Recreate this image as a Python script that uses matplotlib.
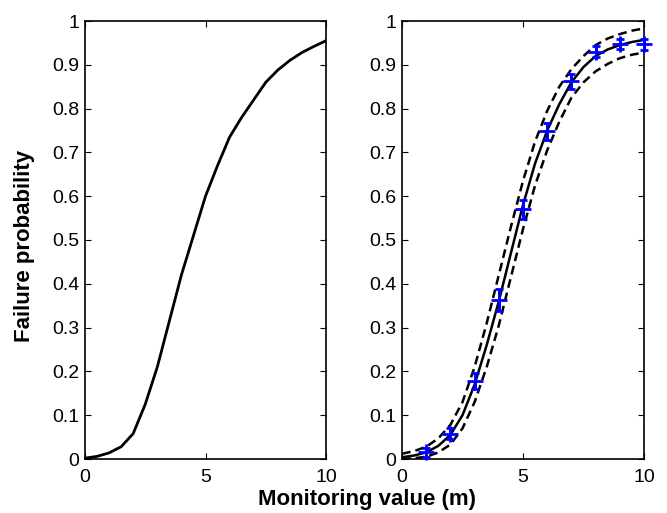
import matplotlib
matplotlib.use("Agg")
import matplotlib.pyplot as plt
import numpy as np

plt.rcParams['font.family'] = ['Liberation Sans', 'DejaVu Sans']

# Left panel curve
x_curve = [0, 0.5, 1, 1.5, 2, 2.5, 3, 3.5, 4, 4.5, 5, 5.5, 6, 6.5, 7, 7.5, 8, 8.5, 9, 9.5, 10]
p_left = [0.002, 0.006, 0.014, 0.028, 0.058, 0.125, 0.21, 0.315, 0.42, 0.51, 0.60, 0.67, 0.735, 0.78, 0.82, 0.86, 0.888, 0.91, 0.928, 0.942, 0.955]

# Right panel: fitted curve and confidence bounds
p_mid = [0.004, 0.008, 0.015, 0.03, 0.055, 0.10, 0.17, 0.26, 0.36, 0.47, 0.58, 0.675, 0.75, 0.81, 0.86, 0.895, 0.92, 0.935, 0.945, 0.952, 0.957]
p_upper = [0.012, 0.018, 0.028, 0.047, 0.078, 0.13, 0.21, 0.31, 0.42, 0.53, 0.635, 0.725, 0.795, 0.85, 0.89, 0.92, 0.945, 0.96, 0.97, 0.978, 0.983]
p_lower = [0.0, 0.002, 0.005, 0.015, 0.033, 0.07, 0.13, 0.21, 0.305, 0.415, 0.525, 0.625, 0.705, 0.77, 0.825, 0.86, 0.885, 0.902, 0.915, 0.923, 0.928]

# Observed points with error bars
x_obs = [1, 2, 3, 4, 5, 6, 7, 8, 9, 10]
p_obs = [0.015, 0.058, 0.178, 0.362, 0.57, 0.748, 0.862, 0.93, 0.948, 0.947]
p_err = [0.010, 0.012, 0.018, 0.025, 0.022, 0.02, 0.017, 0.013, 0.011, 0.013]

yticks = [0, 0.1, 0.2, 0.3, 0.4, 0.5, 0.6, 0.7, 0.8, 0.9, 1]
ytick_labels = ['0', '0.1', '0.2', '0.3', '0.4', '0.5', '0.6', '0.7', '0.8', '0.9', '1']
xticks = [0, 5, 10]

fig = plt.figure(figsize=(6.67, 5.13), dpi=100)
ax1 = fig.add_axes([85/667, 54/513, 241/667, 438/513])
ax2 = fig.add_axes([402/667, 54/513, 242/667, 438/513])

ax1.plot(x_curve, p_left, color='black', lw=2)

ax2.plot(x_curve, p_mid, color='black', lw=1.8)
ax2.plot(x_curve, p_upper, color='black', lw=1.8, ls=(0, (3.5, 2)))
ax2.plot(x_curve, p_lower, color='black', lw=1.8, ls=(0, (3.5, 2)))
ax2.errorbar(x_obs, p_obs, yerr=p_err, fmt='+', color='blue', ms=11, mew=2,
             elinewidth=2, capsize=3, capthick=2, zorder=5, clip_on=False)

for ax in (ax1, ax2):
    ax.set_xlim(0, 10)
    ax.set_ylim(0, 1)
    ax.set_xticks(xticks)
    ax.set_xticklabels([str(t) for t in xticks])
    ax.set_yticks(yticks)
    ax.set_yticklabels(ytick_labels)
    ax.tick_params(direction='in', top=True, right=True, length=4, width=0.8,
                   labelsize=14)
    ax.tick_params(axis='x', pad=7)
    ax.tick_params(axis='y', pad=4)
    for s in ax.spines.values():
        s.set_linewidth(1.2)

fig.text(367/667, 1 - 499/513, 'Monitoring value (m)', ha='center', va='center',
         fontsize=16, fontweight='bold')
fig.text(25/667, 1 - 246/513, 'Failure probability', ha='center', va='center',
         rotation=90, fontsize=16, fontweight='bold')

fig.savefig('out.png', dpi=100)
